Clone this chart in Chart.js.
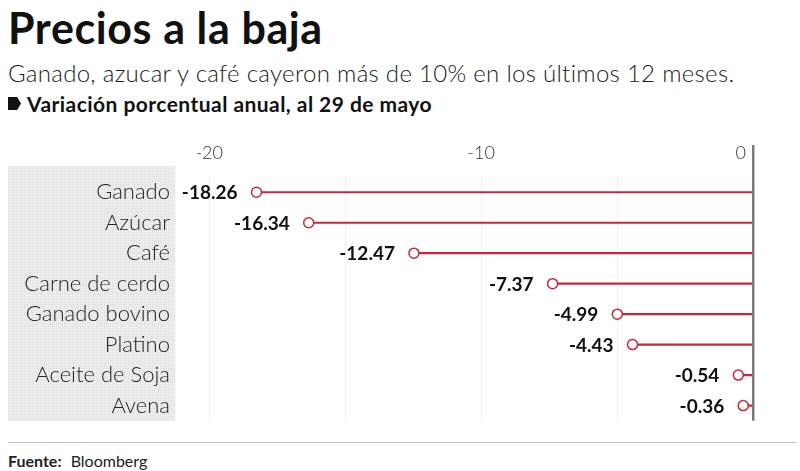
<!DOCTYPE html>
<html>
<head>
<meta charset="utf-8">
<script src="https://cdn.jsdelivr.net/npm/chart.js@4.4.0/dist/chart.umd.min.js"></script>
<style>
  html, body { margin: 0; padding: 0; background: #fff; }
  body { width: 800px; height: 471px; position: relative; overflow: hidden; font-family: Lato, "Open Sans", sans-serif; color: #111; }
  .t { position: absolute; left: 8px; white-space: nowrap; line-height: 1; }
  #title { top: 6px; font-size: 43px; font-weight: 700; letter-spacing: 0.6px; }
  #sub { top: 61px; font-size: 24px; font-weight: 300; color: #222; letter-spacing: 0.3px; }
  #tag { top: 93px; font-size: 21px; font-weight: 700; left: 27px; color: #111; letter-spacing: 0.45px; }
  #tagicon { position: absolute; left: 8px; top: 97px; width: 13px; height: 13px; background: #111;
             clip-path: polygon(0 0, 70% 0, 100% 50%, 70% 100%, 0 100%); }
  #wrap { position: absolute; left: 0; top: 130px; width: 800px; height: 316px; }
  #chart { display: block; }
  #rule { position: absolute; left: 8px; top: 442px; width: 789px; height: 1px; background: #c8c8c8; }
  #src { top: 453px; font-size: 16px; color: #222; }
  #src b { font-weight: 700; margin-right: 5px; }
</style>
</head>
<body>
<div class="t" id="title">Precios a la baja</div>
<div class="t" id="sub">Ganado, azucar y café cayeron más de 10% en los últimos 12 meses.</div>
<div id="tagicon"></div>
<div class="t" id="tag">Variación porcentual anual, al 29 de mayo</div>
<div id="wrap"><canvas id="chart" width="800" height="316"></canvas></div>
<div id="rule"></div>
<div class="t" id="src"><b>Fuente:</b> Bloomberg</div>

<script>
// datos
const categorias = ["Ganado", "Azúcar", "Café", "Carne de cerdo", "Ganado bovino", "Platino", "Aceite de Soja", "Avena"];
const variacion = [-18.26, -16.34, -12.47, -7.37, -4.99, -4.43, -0.54, -0.36];
const etiquetasX = { "-20": "-20", "-10": "-10", "0": "0     " };

const rojo = "#c4283f";

// fondo punteado detras de las etiquetas
const patron = document.createElement("canvas");
patron.width = 2; patron.height = 2;
pctx = patron.getContext("2d");
pctx.fillStyle = "#e4e4e4";
pctx.fillRect(0, 0, 2, 2);
pctx.fillStyle = "#fafafa";
pctx.fillRect(1, 1, 1, 1);

const fondo = {
    id: "fondo",
    beforeDraw(chart) {
        const ctx = chart.ctx;
        const a = chart.chartArea;
        ctx.save();
        ctx.fillStyle = ctx.createPattern(patron, "repeat");
        ctx.fillRect(8, a.top - 11, a.left - 15, a.bottom - a.top + 11);
        ctx.restore();
    }
};

// valores en negrita a la izquierda de cada punto
const valores = {
    id: "valores",
    afterDatasetsDraw(chart) {
        const ctx = chart.ctx;
        const meta = chart.getDatasetMeta(1);
        ctx.save();
        ctx.font = "bold 19px Lato";
        ctx.fillStyle = "#111";
        ctx.textAlign = "right";
        ctx.textBaseline = "middle";
        meta.data.forEach((pt, i) => {
            ctx.fillText(variacion[i].toFixed(2), pt.x - 19, pt.y + 1);
        });
        ctx.restore();
    }
};

new Chart(document.getElementById("chart"), {
    type: "bar",
    data: {
        labels: categorias,
        datasets: [{
            type: "bar",
            indexAxis: "y",
            data: variacion,
            backgroundColor: rojo,
            barThickness: 1.5,
            order: 2
        }, {
            type: "line",
            indexAxis: "y",
            data: variacion,
            showLine: false,
            pointRadius: 5,
            pointBorderWidth: 1.5,
            pointBackgroundColor: "#fff",
            pointBorderColor: rojo,
            order: 1
        }]
    },
    options: {
        indexAxis: "y",
        responsive: false,
        animation: false,
        layout: { padding: { left: 0, right: 47, top: 0, bottom: 0 } },
        plugins: { legend: { display: false }, tooltip: { enabled: false } },
        scales: {
            x: {
                position: "top",
                min: -21,
                max: 0,
                border: { display: false },
                grid: {
                    color: c => c.tick && c.tick.value === 0 ? "#7a7a7a" : "#efefef",
                    lineWidth: c => c.tick && c.tick.value === 0 ? 2.5 : 1,
                    tickColor: c => c.tick && c.tick.value === 0 ? "#7a7a7a" : "rgba(0,0,0,0)",
                    tickWidth: 2.5,
                    tickLength: 32
                },
                ticks: {
                    stepSize: 5,
                    includeBounds: false,
                    maxRotation: 0,
                    autoSkip: false,
                    padding: -19,
                    color: "#333",
                    font: { family: "Lato", size: 18, weight: 300 },
                    callback: v => etiquetasX[String(v)] || ""
                },
                afterFit: s => { s.height = 47; }
            },
            y: {
                border: { display: false },
                grid: { display: false, drawTicks: false },
                ticks: {
                    autoSkip: false,
                    padding: 12,
                    color: "#222",
                    font: { family: "Lato", size: 22, weight: 300 }
                },
                afterFit: s => { s.width = 182; }
            }
        }
    },
    plugins: [fondo, valores]
});
</script>
</body>
</html>
